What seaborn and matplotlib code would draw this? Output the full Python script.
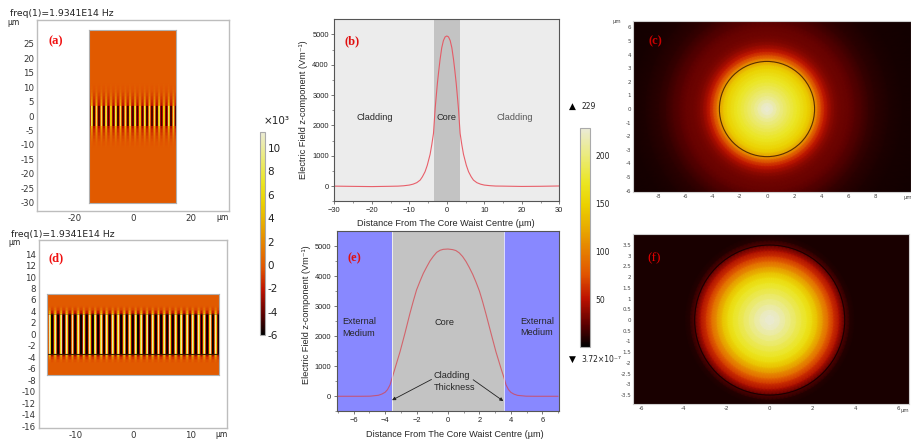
import numpy as np
import pandas as pd
import seaborn as sns
import matplotlib
matplotlib.use("Agg")
import matplotlib.pyplot as plt
from matplotlib.cm import ScalarMappable
from matplotlib.colors import LinearSegmentedColormap, Normalize
from matplotlib.patches import Circle

# panel b, profile across the whole domain
b_x = [-30, -25, -20, -15, -13, -11.5, -10, -9, -8, -7.1, -6.5, -5.8, -5.2, -4.45, -4, -3.55, -3.3, -3.1,
       -2.8, -2.5, -2.15, -1.8, -1.35, -0.9, -0.45, 0,
       0.45, 0.9, 1.35, 1.8, 2.15, 2.5, 2.8, 3.1, 3.3, 3.55, 4, 4.45, 5.2, 5.8, 6.5, 7.1, 8, 9, 10, 11.5, 13, 15, 20, 25, 30]
b_y = [0, -8, -15, -5, 0, 12, 35, 65, 115, 200, 310, 475, 690, 1050, 1370, 1740, 2200, 2570,
       2990, 3400, 3800, 4170, 4560, 4800, 4920, 4950,
       4920, 4800, 4560, 4170, 3800, 3400, 2990, 2570, 2200, 1740, 1370, 1050, 690, 475, 310, 200, 115, 65, 35, 15, 3, 0, -10, -5, 5]

# panel e, zoomed on the core
e_x = [-7, -5.5, -4.96, -4.43, -4.2, -4.0, -3.85, -3.69, -3.56, -3.37, -3.05, -2.74, -2.42, -2.2, -2.0, -1.78,
       -1.57, -1.35, -1.15, -0.93, -0.72, -0.5, -0.3, 0,
       0.3, 0.5, 0.72, 0.93, 1.15, 1.35, 1.57, 1.78, 2.0, 2.2, 2.42, 2.74, 3.05, 3.37, 3.56, 3.69, 3.85, 4.0, 4.2, 4.43, 4.96, 5.5, 7]
e_y = [0, 0, 3, 33, 75, 133, 220, 377, 600, 930, 1485, 2095, 2760, 3180, 3540, 3830,
       4090, 4310, 4500, 4660, 4790, 4860, 4890, 4900,
       4880, 4850, 4770, 4650, 4480, 4290, 4060, 3800, 3500, 3150, 2730, 2090, 1480, 930, 620, 380, 220, 130, 70, 30, 3, 0, 0]

# radial field profiles for c and f
c_r = [0, 0.25, 0.5, 0.75, 1, 1.25, 1.5, 1.75, 2, 2.25, 2.5, 2.75, 3, 3.25, 3.5, 3.75, 4, 4.25, 4.5, 4.75,
       5, 5.25, 5.5, 5.75, 6, 6.5, 7, 7.5, 8, 9, 10, 12, 14]
c_v = [228, 226, 220, 211, 203, 196, 190, 184, 178, 172, 165, 158, 150, 138, 118, 90, 68, 54, 44, 37,
       33, 30, 28, 27, 26, 22, 18, 14, 11, 8, 6, 5, 5]
f_r = [0, 0.25, 0.5, 0.75, 1, 1.25, 1.5, 1.75, 2, 2.25, 2.5, 2.75, 3, 3.25, 3.5, 3.75, 4, 9]
f_v = [228, 226, 219, 209, 200, 190, 180, 170, 156, 135, 110, 85, 62, 45, 22, 9, 7, 7]

# rectangular panels: level of the stripes per row, counted from the centre outwards
a_env = [0.8] * 7 + [0.4, 0.32, 0.27, 0.24, 0.2, 0.17, 0.14, 0.11, 0.09, 0.07, 0.05, 0.04, 0.03, 0.02, 0.01]
d_env = [1.0] * 14 + [0.45, 0.3, 0.18, 0.1, 0.05, 0.02]
# field across one stripe period
stripe_shape = [-6, -5.5, -3, 0, 6, 10.5, 10.5, 6, 0, -3, -5.5, -6]
a_periods = 18
d_periods = 30

a_xticks = [-20, 0, 20]
a_yticks = [25, 20, 15, 10, 5, 0, -5, -10, -15, -20, -25, -30]
d_xticks = [-10, 0, 10]
d_yticks = [14, 12, 10, 8, 6, 4, 2, 0, -2, -4, -6, -8, -10, -12, -14, -16]
c_xticks = [-8, -6, -4, -2, 0, 2, 4, 6, 8]
c_yticks = [6, 5, 4, 3, 2, 1, 0, -1, -2, -3, -4, -5, -6]
f_xticks = [-6, -4, -2, 0, 2, 4, 6]
f_yticks = [3.5, 3, 2.5, 2, 1.5, 1, 0.5, 0, -0.5, -1, -1.5, -2, -2.5, -3, -3.5]
f_ylabels = ["3.5", "3", "2.5", "2", "1.5", "1", "0.5", "0", "0.5", "-1", "1.5", "-2", "-2.5", "-3", "-3.5"]
left_cbar_ticks = [-6, -4, -2, 0, 2, 4, 6, 8, 10]
right_cbar_ticks = [50, 100, 150, 200]

W, H = 911, 440
sns.set_theme(style="white")
plt.rcParams["axes.unicode_minus"] = False
plt.rcParams["font.family"] = ["DejaVu Sans"]
SANS = ["Liberation Sans", "DejaVu Sans"]
SERIF = ["Liberation Serif"]

heat = LinearSegmentedColormap.from_list("heat", [
    (0.0, (0, 0, 0)), (0.1, (0.36, 0, 0)), (0.22, (0.74, 0.07, 0)), (0.33, (0.88, 0.33, 0)),
    (0.44, (0.9, 0.5, 0)), (0.55, (0.91, 0.68, 0)), (0.65, (0.92, 0.82, 0)), (0.75, (0.92, 0.9, 0.13)),
    (0.87, (0.92, 0.92, 0.47)), (1.0, (0.92, 0.92, 0.84))])

fig = plt.figure(figsize=(W / 100, H / 100), dpi=100)


def px_axes(l, t, r, b):
    return fig.add_axes([l / W, 1 - b / H, (r - l) / W, (b - t) / H])


def px_text(x, y, s, **kw):
    kw.setdefault("ha", "center")
    kw.setdefault("va", "center")
    fig.text(x / W, 1 - y / H, s, **kw)


def frame(ax, color="#bdbdbd", lw=1.0):
    for sp in ax.spines.values():
        sp.set_visible(True)
        sp.set_color(color)
        sp.set_linewidth(lw)


def stripes(box, rect_box, xlim, ylim, xticks, yticks, rect_y, levels, cell, periods):
    outer = px_axes(*box)
    outer.set(xlim=xlim, ylim=ylim)
    outer.set_xticks(xticks)
    outer.set_yticks(yticks)
    outer.tick_params(length=1.5, width=0.4, color="#999999", direction="in", labelsize=6.2,
                      labelcolor="#333333", pad=2)
    frame(outer)
    # the field itself is a heatmap sitting exactly on the rectangle
    ax = px_axes(*rect_box)
    rows = (np.abs(np.arange(-rect_y + cell / 2, rect_y, cell)) / cell).astype(int)
    env = np.array(levels + [0] * 200)[rows]
    field = pd.DataFrame(np.outer(env, np.tile(stripe_shape, periods)))
    sns.heatmap(field, ax=ax, cmap=heat, vmin=-6, vmax=11.4, cbar=False, xticklabels=False, yticklabels=False,
                antialiased=True, linewidths=0.03, linecolor="face")
    ax.set_facecolor(heat(6 / 17.4))
    frame(ax, "#b0b0b0", 0.8)
    return ax


def radial(l, t, r, b, xlim, ylim, radii, vals, xticks, yticks, circle):
    ax = px_axes(l, t, r, b)
    th = np.linspace(0, 2 * np.pi, 121)
    X = np.outer(radii, np.cos(th))
    Y = np.outer(radii, np.sin(th))
    C = np.tile(np.array(vals)[:, None], (1, len(th)))
    # drawn a few times over to close the seams between the triangles
    for _ in range(4):
        ax.pcolormesh(X, Y, C, shading="gouraud", cmap=heat, vmin=0, vmax=229)
    ax.add_patch(Circle((0, 0), 3.5, fill=False, ec=circle, lw=0.8))
    ax.set(xlim=xlim, ylim=ylim)
    ax.set_facecolor(heat(vals[-1] / 229))
    ax.set_xticks(xticks)
    ax.set_yticks(yticks)
    ax.tick_params(length=0, labelsize=4, labelcolor="#444444", pad=1.5)
    frame(ax, "#cfcfcf", 0.8)
    return ax


def profile(l, t, r, b, xlim, x, y, xticks, xlabels, minor, bg, bands, color, alpha):
    ax = px_axes(l, t, r, b)
    ax.axvspan(xlim[0], xlim[1], color=bg, lw=0)
    ax.axvspan(bands[0], bands[1], color="#c3c3c3", lw=0)
    sns.lineplot(x=x, y=y, ax=ax, color=color, lw=0.8, alpha=alpha, estimator=None, sort=False)
    ax.set(xlim=xlim, ylim=(-500, 5500), xlabel="", ylabel="")
    ax.set_xticks(xticks)
    ax.set_xticklabels(xlabels, fontfamily=SANS)
    ax.set_yticks([0, 1000, 2000, 3000, 4000, 5000])
    ax.set_yticklabels([0, 1000, 2000, 3000, 4000, 5000], fontfamily=SANS)
    ax.set_xticks(minor, minor=True)
    ax.set_yticks(np.arange(-500, 5500, 1000), minor=True)
    ax.tick_params(which="major", bottom=True, left=True, length=2.5, width=0.5, color="#444444",
                   labelsize=5.4, labelcolor="#222222", pad=1.5)
    ax.tick_params(which="minor", bottom=True, left=True, length=1.4, width=0.4, color="#444444")
    frame(ax, "#555555", 0.8)
    return ax


# a and d
stripes((37, 20, 229, 211), (89.4, 29.5, 176, 202.6), (-33.2, 33.4), (-32.9, 33.3), a_xticks, a_yticks,
        30, a_env, 0.5, a_periods)
ax_d = stripes((38.7, 240.3, 227.3, 428), (46.7, 294.1, 218.7, 374.5), (-16.4, 16.4), (-16.3, 16.4), d_xticks,
               d_yticks, 7, d_env, 0.25, d_periods)
# core edges, in heatmap rows (0.25 per row, counted from the top)
ax_d.axhline((7 + 3.5) / 0.25, color="#3a1c00", lw=0.8)
ax_d.axhline((7 - 3.5) / 0.25, color="#7a3a00", lw=0.5, alpha=0.7)

px_text(61.5, 14, "freq(1)=1.9341E14 Hz", fontsize=6.7, color="#222222")
px_text(13, 22.5, "µm", fontsize=5.5, color="#222222")
px_text(222.5, 217, "µm", fontsize=5.5, color="#222222")
px_text(62.5, 234, "freq(1)=1.9341E14 Hz", fontsize=6.7, color="#222222")
px_text(14.5, 242, "µm", fontsize=5.5, color="#222222")
px_text(221.5, 434, "µm", fontsize=5.5, color="#222222")

# left colour bar
cax = px_axes(260, 131.7, 264.7, 335)
cb = fig.colorbar(ScalarMappable(Normalize(-6, 11.4), heat), cax=cax, ticks=left_cbar_ticks)
cb.ax.tick_params(length=1.5, width=0.4, color="#666666", direction="in", labelsize=7.5,
                  labelcolor="#222222", pad=2)
cb.outline.set_edgecolor("#aaaaaa")
cb.outline.set_linewidth(0.8)
px_text(277, 120.7, "×10³", fontsize=7.5, color="#222222")

# b and e
ax_b = profile(334.3, 19.3, 559.3, 201.3, (-30, 30), b_x, b_y, [-30, -20, -10, 0, 10, 20, 30],
               ["−30", "−20", "−10", "0", "10", "20", "30"], np.arange(-25, 30, 10),
               "#ececec", (-3.5, 3.5), "#e8505c", 0.9)
ax_e = profile(336.7, 231, 559.3, 411.3, (-7.08, 7.08), e_x, e_y, [-6, -4, -2, 0, 2, 4, 6],
               ["−6", "−4", "−2", "0", "2", "4", "6"], [-7, -5, -3, -1, 1, 3, 5, 7],
               "#8888ff", (-3.56, 3.54), "#d8404a", 0.72)
ax_e.axvline(-3.56, color="white", lw=0.5)
ax_e.axvline(3.54, color="white", lw=0.5)
ax_e.annotate("", xy=(-3.56, -130), xytext=(-1.05, 560),
              arrowprops=dict(arrowstyle="-|>", color="#222222", lw=0.6, mutation_scale=5, shrinkA=0, shrinkB=0))
ax_e.annotate("", xy=(3.52, -160), xytext=(1.6, 550),
              arrowprops=dict(arrowstyle="-|>", color="#222222", lw=0.6, mutation_scale=5, shrinkA=0, shrinkB=0))

YLAB = "Electric Field z-component (Vm⁻¹)"
XLAB = "Distance From The Core Waist Centre (µm)"
LAB = dict(family=SANS, fontsize=6.6, color="#262626")
px_text(304, 110, YLAB, rotation=90, **LAB)
px_text(306.7, 315, YLAB, rotation=90, **LAB)
px_text(445.7, 224, XLAB, **LAB)
px_text(454.7, 434.7, XLAB, **LAB)
px_text(375, 118, "Cladding", **LAB)
px_text(446.7, 118, "Core", **LAB)
px_text(514.3, 118, "Cladding", family=SANS, fontsize=6.6, color="#555555")
px_text(359, 321.7, "External", **LAB)
px_text(359, 333, "Medium", **LAB)
px_text(537, 321, "External", **LAB)
px_text(537, 332.5, "Medium", **LAB)
px_text(444.7, 322, "Core", **LAB)
px_text(433.7, 375.7, "Cladding", ha="left", **LAB)
px_text(433.7, 387, "Thickness", ha="left", **LAB)

# right colour bar
cax2 = px_axes(579.7, 128.3, 589.7, 346.7)
cb2 = fig.colorbar(ScalarMappable(Normalize(0, 229), heat), cax=cax2, ticks=right_cbar_ticks)
cb2.ax.tick_params(length=2, width=0.4, color="#666666", direction="in", labelsize=5.5,
                   labelcolor="#222222", pad=4)
cb2.outline.set_edgecolor("#aaaaaa")
cb2.outline.set_linewidth(0.8)
px_text(572, 106, "▲", fontsize=6.5, color="black")
px_text(581, 106, "229", fontsize=5.5, color="#222222", ha="left")
px_text(572, 359.5, "▼", fontsize=6.5, color="black")
px_text(581, 359, "3.72×10⁻⁷", fontsize=5.5, color="#222222", ha="left")

# c and f
radial(633.3, 21.3, 911, 192, (-9.83, 10.59), (-6.1, 6.45), c_r, c_v, c_xticks, c_yticks, "#5a3000")
ax_f = radial(633.3, 234.3, 909.3, 404.3, (-6.36, 6.51), (-3.93, 4.0), f_r, f_v, f_xticks, f_yticks, "#1a0000")
ax_f.set_yticklabels(f_ylabels)
px_text(616.7, 22, "µm", fontsize=3.8, color="#444444")
px_text(907.7, 197, "µm", fontsize=3.8, color="#444444")
px_text(904.5, 410, "µm", fontsize=3.8, color="#444444")

# panel letters
LET = dict(family=SERIF, fontsize=9, fontweight="bold")
px_text(56, 41, "(a)", color="#f01010", **LET)
px_text(352, 41, "(b)", color="#e01010", **LET)
px_text(655.7, 41, "(c)", color="#c80000", **LET)
px_text(56, 258, "(d)", color="#f01010", **LET)
px_text(354, 258, "(e)", color="#e01010", **LET)
px_text(654, 258, "(f)", color="#e00000", family=SERIF, fontsize=9.5)

fig.savefig("out.png", dpi=100)
